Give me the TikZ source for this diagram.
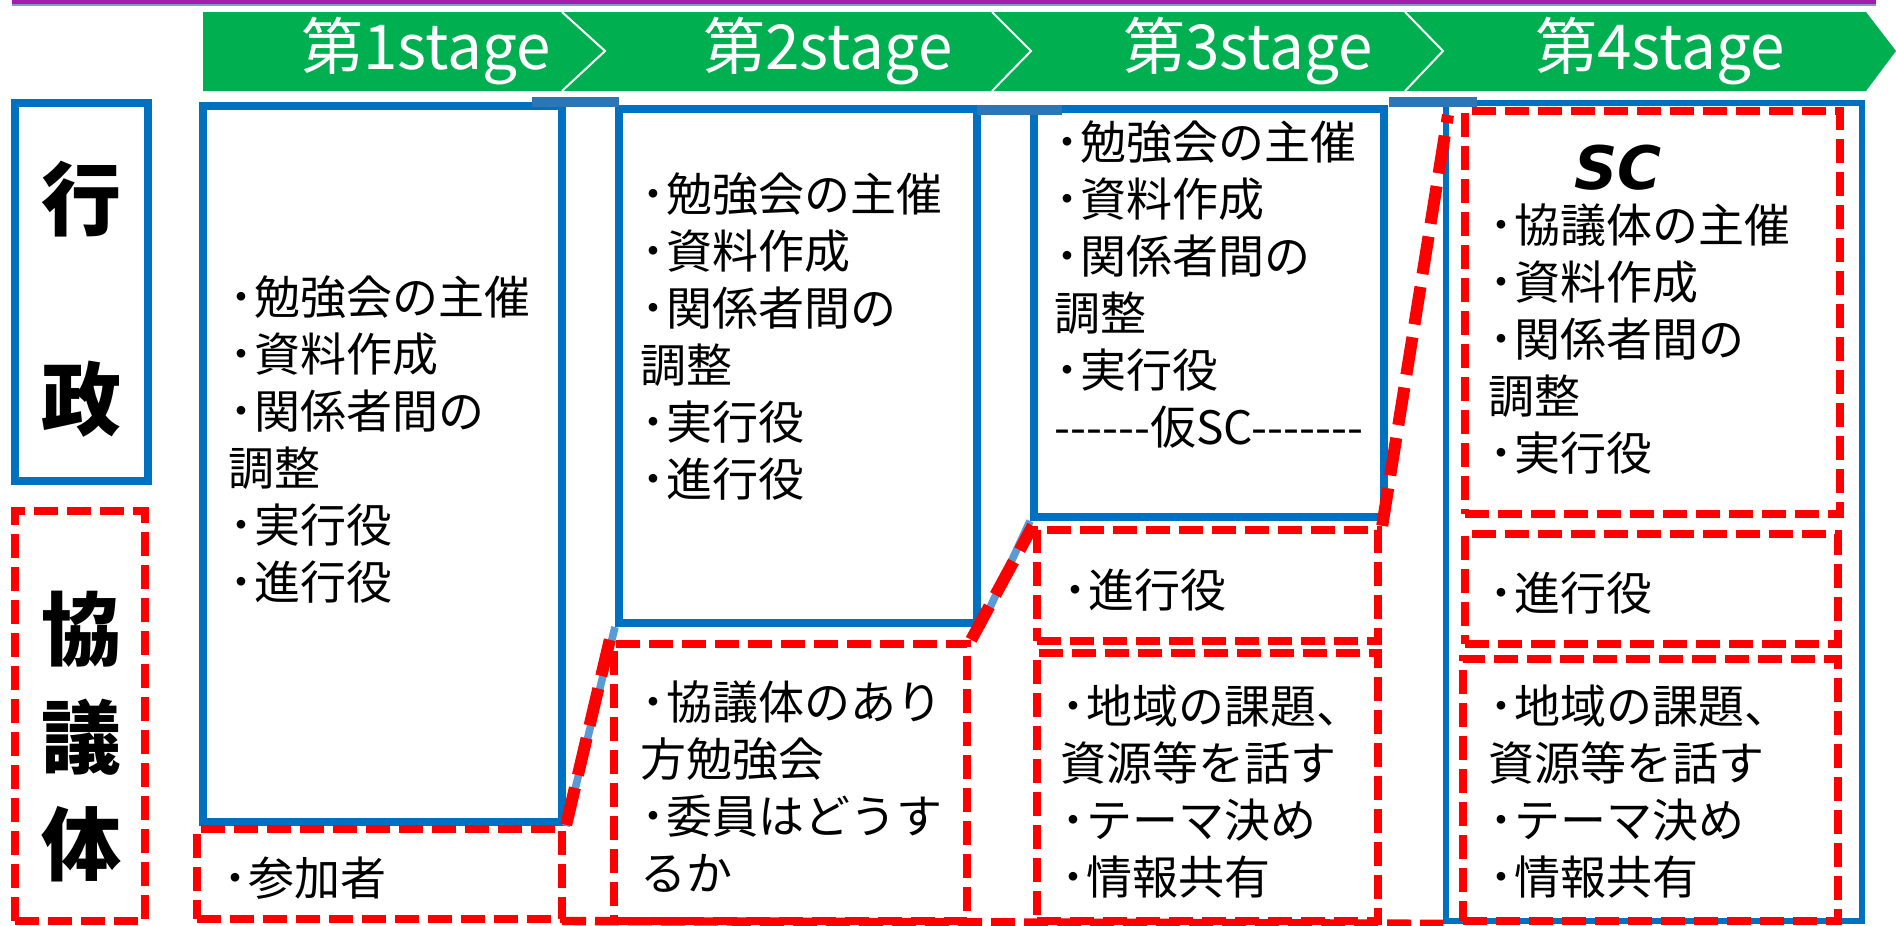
\documentclass[tikz,border=0pt]{standalone}
\usepackage{fontspec}
\newfontfamily\jp{Noto Sans CJK JP}
\newfontfamily\scfont{DejaVu Sans}
\usetikzlibrary{fit}
\definecolor{boxblue}{HTML}{0070C0}
\definecolor{lightblue}{HTML}{5B9BD5}
\definecolor{steelblue}{HTML}{2E75B6}
\definecolor{stagegreen}{HTML}{00B050}
\definecolor{dashred}{HTML}{FF0000}
\definecolor{topline}{HTML}{A01FB0}
\definecolor{toplineb}{HTML}{7F9FBF}
\newcommand\bul{\raisebox{-1.2pt}{\fontsize{26}{28.5}\selectfont ･}}
\begin{document}
\begin{tikzpicture}[x=0.5pt,y=-0.5pt,
  bluebox/.style={draw=boxblue, line width=4pt, inner sep=0pt},
  bigbluebox/.style={draw=boxblue, line width=2.8pt, inner sep=0pt},
  redbox/.style={draw=dashred, line width=4.2pt, dash pattern=on 12pt off 4.5pt, inner sep=0pt},
  reddiag/.style={draw=dashred, line width=6pt, dash pattern=on 19pt off 6.5pt},
  redbottom/.style={draw=dashred, line width=4.2pt, dash pattern=on 12pt off 4.5pt},
  lightdiag/.style={draw=lightblue, line width=3.8pt},
  topbar/.style={draw=steelblue, line width=5pt},
  bodytext/.style={anchor=north west, inner sep=0pt, align=left, font=\jp\fontsize{23}{28.5}\selectfont},
  labeltext/.style={inner sep=0pt, font=\jp\bfseries\fontsize{40}{40}\selectfont},
  stagetext/.style={inner sep=0pt, text=white, font=\jp\fontsize{31}{32}\selectfont},
  chevline/.style={draw=white, line width=1pt}
]
\useasboundingbox (0,0) rectangle (1896,926);
\fill[white] (0,0) rectangle (1896,926);

% top rule
\draw[toplineb, line width=0.8pt] (12,5) -- (1876,5);
\draw[topline, line width=1.8pt] (12,2) -- (1876,2);

% stage banner
\fill[stagegreen] (203,12) -- (1866,12) -- (1896,51) -- (1866,91) -- (203,91) -- cycle;
\draw[chevline] (562,12) -- (605,51) -- (562,91);
\draw[chevline] (992,12) -- (1031,51) -- (992,91);
\draw[chevline] (1405,12) -- (1443,51) -- (1405,91);
\node[stagetext] (s1) at (426,51) {第1stage};
\node[stagetext] (s2) at (828,51) {第2stage};
\node[stagetext] (s3) at (1248,51) {第3stage};
\node[stagetext] (s4) at (1660,51) {第4stage};

% left labels
\node[bluebox, fit={(15,103) (148,481)}] (lab1) {};
\node[redbox, fit={(15,511) (145,921)}] (lab2) {};
\node[labeltext] (g1) at (81,199) {行};
\node[labeltext] (g2) at (81,399) {政};
\node[labeltext] (k1) at (81,629) {協};
\node[labeltext] (k2) at (81,737) {議};
\node[labeltext] (k3) at (81,844) {体};

% boxes
\node[bluebox, fit={(203,106) (562,822)}] (b1) {};
\node[bluebox, fit={(619,109) (977,623)}] (b2) {};
\node[bluebox, fit={(1034,109) (1384,517)}] (b3) {};
\node[bigbluebox, fit={(1446,103) (1862,921)}] (b4) {};

\node[redbox, fit={(197,829) (562,919)}] (r1) {};
\node[redbox, fit={(614,644) (967,921)}] (r2) {};
\node[redbox, fit={(1037,530) (1378,641)}] (r3a) {};
\node[redbox, fit={(1037,653) (1378,921)}] (r3b) {};
\node[redbox, fit={(1465,111) (1840,514)}] (r4a) {};
\node[redbox, fit={(1465,534) (1838,644)}] (r4b) {};
\node[redbox, fit={(1463,659) (1838,921)}] (r4c) {};

% texts
\node[bodytext] (t1) at (228,275) {\bul 勉強会の主催\\\bul 資料作成\\\bul 関係者間の\\調整\\\bul 実行役\\\bul 進行役};
\node[bodytext] (t1r) at (222,856) {\bul 参加者};
\node[bodytext] (t2) at (640,172) {\bul 勉強会の主催\\\bul 資料作成\\\bul 関係者間の\\調整\\\bul 実行役\\\bul 進行役};
\node[bodytext] (t2r) at (640,680) {\bul 協議体のあり\\方勉強会\\\bul 委員はどうす\\るか};
\node[bodytext] (t3) at (1054,120) {\bul 勉強会の主催\\\bul 資料作成\\\bul 関係者間の\\調整\\\bul 実行役\\------仮SC-------};
\node[bodytext] (t3a) at (1062,568) {\bul 進行役};
\node[bodytext] (t3b) at (1060,684) {\bul 地域の課題、\\資源等を話す\\\bul テーマ決め\\\bul 情報共有};
\node[inner sep=0pt, font=\scfont\bfseries\itshape\fontsize{30}{30}\selectfont] (sc) at (1618,168) {SC};
\node[bodytext] (t4a) at (1488,203) {\bul 協議体の主催\\\bul 資料作成\\\bul 関係者間の\\調整\\\bul 実行役};
\node[bodytext] (t4b) at (1488,571) {\bul 進行役};
\node[bodytext] (t4c) at (1488,684) {\bul 地域の課題、\\資源等を話す\\\bul テーマ決め\\\bul 情報共有};

% top bars
\coordinate (tb1a) at (532,102); \coordinate (tb1b) at (619,102);
\coordinate (tb2a) at (977,110); \coordinate (tb2b) at (1062,110);
\coordinate (tb3a) at (1389,102); \coordinate (tb3b) at (1477,102);
\draw[topbar] (tb1a) -- (tb1b);
\draw[topbar] (tb2a) -- (tb2b);
\draw[topbar] (tb3a) -- (tb3b);

% connectors
\draw[lightdiag] (b1.south east) -- (b2.south west);
\draw[lightdiag] (b2.south east) -- (b3.south west);
\coordinate (bl) at (562,921);
\draw[redbottom] (bl) -- (b4.south west);
\draw[reddiag] (r1.north east) -- (r2.north west);
\draw[reddiag] (r2.north east) -- (r3a.north west);
\coordinate (e3top) at (1448,115);
\draw[reddiag] (r3a.north east) -- (e3top);
\end{tikzpicture}
\end{document}
